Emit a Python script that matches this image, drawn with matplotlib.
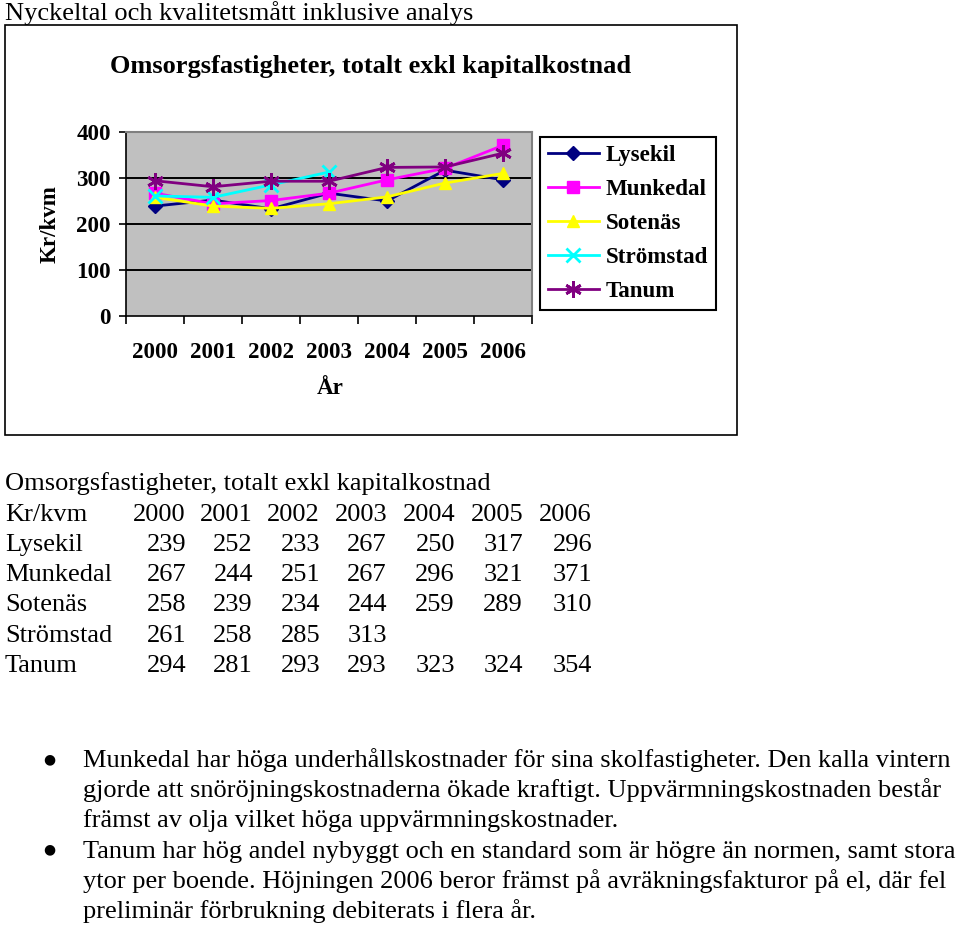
import numpy as np
import matplotlib
matplotlib.use("Agg")
import matplotlib.pyplot as plt
from matplotlib.patches import Rectangle

plt.rcParams['font.family'] = ['Liberation Serif', 'DejaVu Serif']

years = ['2000', '2001', '2002', '2003', '2004', '2005', '2006']
lysekil = [239, 252, 233, 267, 250, 317, 296]
munkedal = [267, 244, 251, 267, 296, 321, 371]
sotenas = [258, 239, 234, 244, 259, 289, 310]
stromstad = [261, 258, 285, 313, np.nan, np.nan, np.nan]
tanum = [294, 281, 293, 293, 323, 324, 354]

names = ['Lysekil', 'Munkedal', 'Sotenäs', 'Strömstad', 'Tanum']
series = [lysekil, munkedal, sotenas, stromstad, tanum]
colors = ['#000080', '#FF00FF', '#FFFF00', '#00FFFF', '#800080']
markers = ['D', 's', '^', 'x', (6, 2, 0)]
msizes = [7, 9, 9, 10, 12]

chart_title = 'Omsorgsfastigheter, totalt exkl kapitalkostnad'
bullets = [
    ['Munkedal har höga underhållskostnader för sina skolfastigheter. Den kalla vintern',
     'gjorde att snöröjningskostnaderna ökade kraftigt. Uppvärmningskostnaden består',
     'främst av olja vilket höga uppvärmningskostnader.'],
    ['Tanum har hög andel nybyggt och en standard som är högre än normen, samt stora',
     'ytor per boende. Höjningen 2006 beror främst på avräkningsfakturor på el, där fel',
     'preliminär förbrukning debiterats i flera år.'],
]

W, H = 960, 930
fig = plt.figure(figsize=(W / 100, H / 100), dpi=100)
FS = 19


def fx(x):
    return x / W


def fy(y):
    return 1 - y / H


# header
fig.text(fx(5), fy(20), 'Nyckeltal och kvalitetsmått inklusive analys',
         fontsize=FS, va='baseline', ha='left')

# chart frame
fig.patches.append(Rectangle((fx(5), fy(435)), fx(732), (435 - 25) / H,
                             transform=fig.transFigure, fill=False,
                             edgecolor='black', linewidth=1.2))
fig.text(fx(371), fy(67), chart_title, fontsize=FS, fontweight='bold',
         ha='center', va='center')

ax = fig.add_axes([fx(126), fy(316), (532 - 126) / W, (316 - 132) / H])
ax.set_facecolor('#C0C0C0')
x = np.arange(len(years))
for name, vals, c, m, ms in zip(names, series, colors, markers, msizes):
    mew = 2 if m in ('x', (6, 2, 0)) else 1
    ax.plot(x, vals, color=c, linewidth=2, marker=m, markersize=ms,
            markeredgewidth=mew, markeredgecolor=c, markerfacecolor=c, label=name)

ax.set_xlim(-0.5, 6.5)
ax.set_ylim(0, 400)
ax.set_yticks([0, 100, 200, 300, 400])
ax.set_xticks(x)
ax.set_xticklabels(years)
ax.set_xticks(np.arange(-0.5, 7, 1), minor=True)
ax.tick_params(axis='x', which='major', length=0, pad=19, labelsize=16.6)
ax.tick_params(axis='x', which='minor', length=6, width=1.2, direction='out')
ax.tick_params(axis='y', length=5, width=1.2, direction='out', pad=6, labelsize=16.6)
for lab in ax.get_xticklabels() + ax.get_yticklabels():
    lab.set_fontweight('bold')
for yv in [100, 200, 300]:
    ax.axhline(yv, color='black', linewidth=1.4, zorder=1)
ax.spines['left'].set_linewidth(1.2)
ax.spines['bottom'].set_linewidth(1.2)
ax.spines['top'].set_color('#808080')
ax.spines['right'].set_color('#808080')
ax.spines['top'].set_linewidth(1.5)
ax.spines['right'].set_linewidth(1.5)

fig.text(fx(50), fy(224), 'Kr/kvm', rotation=90, fontsize=16.6, fontweight='bold',
         ha='center', va='center')
fig.text(fx(330), fy(388), 'År', fontsize=16.6, fontweight='bold',
         ha='center', va='center')

leg = ax.legend(loc='upper left', bbox_to_anchor=(fx(540), fy(137)),
                bbox_transform=fig.transFigure, borderaxespad=0, fancybox=False,
                edgecolor='black', framealpha=1, handlelength=2.2,
                handletextpad=0.3, labelspacing=0.56, borderpad=0.35,
                prop={'size': 16.6, 'weight': 'bold'})
leg.get_frame().set_linewidth(1.5)

# table
row_y = [490, 521, 551, 581, 611, 642, 672]
col_x = [186, 253, 320, 387, 455, 523, 592]
fig.text(fx(5), fy(row_y[0]), chart_title, fontsize=FS, va='baseline', ha='left')
fig.text(fx(5), fy(row_y[1]), 'Kr/kvm', fontsize=FS, va='baseline', ha='left')
for cx, yr in zip(col_x, years):
    fig.text(fx(cx), fy(row_y[1]), yr, fontsize=FS, va='baseline', ha='right')
for ry, name, vals in zip(row_y[2:], names, series):
    fig.text(fx(5), fy(ry), name, fontsize=FS, va='baseline', ha='left')
    for cx, v in zip(col_x, vals):
        if not np.isnan(v):
            fig.text(fx(cx), fy(ry), f'{int(v)}', fontsize=FS, va='baseline', ha='right')

# bullet notes
ly = 767
for block in bullets:
    fig.text(fx(49), fy(ly - 8), '●', fontsize=10, va='center', ha='center',
             family='DejaVu Sans')
    for line in block:
        fig.text(fx(83), fy(ly), line, fontsize=FS, va='baseline', ha='left')
        ly += 30.2

fig.savefig('out.png', dpi=100)
